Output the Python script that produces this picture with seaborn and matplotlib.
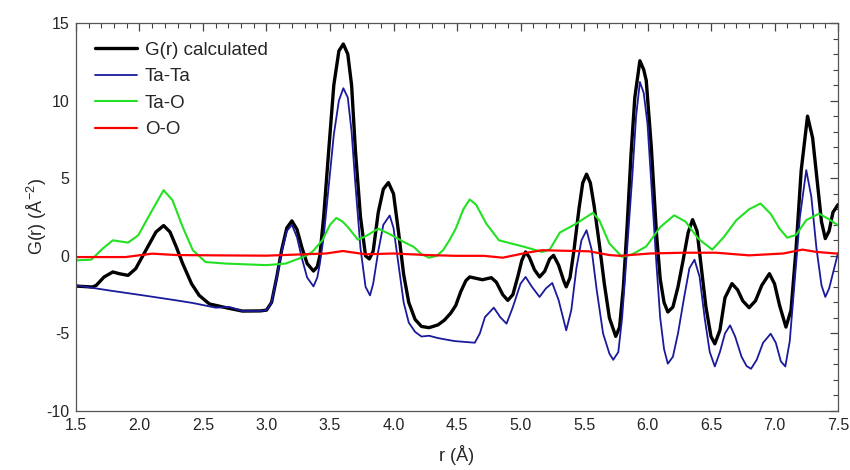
import numpy as np
import pandas as pd
import matplotlib
matplotlib.use('Agg')
import matplotlib.pyplot as plt
from matplotlib.ticker import MultipleLocator, FormatStrFormatter
import seaborn as sns

# G(r) calculado (curva preta)
r_calc = [1.50, 1.63, 1.66, 1.72, 1.79, 1.84, 1.91, 1.97, 2.05, 2.13, 2.19, 2.24, 2.29, 2.34, 2.41,
          2.47, 2.55, 2.68, 2.81, 2.95, 3.00, 3.04, 3.08, 3.12, 3.16, 3.20, 3.24, 3.28, 3.32, 3.37,
          3.40, 3.42, 3.45, 3.49, 3.53, 3.57, 3.605, 3.64, 3.67, 3.70, 3.74, 3.78, 3.81, 3.84, 3.88,
          3.92, 3.96, 4.00, 4.04, 4.08, 4.12, 4.17, 4.22, 4.28, 4.35, 4.40, 4.45, 4.49, 4.53, 4.57,
          4.60, 4.65, 4.70, 4.77, 4.81, 4.86, 4.90, 4.94, 4.98, 5.01, 5.04, 5.07, 5.11, 5.15, 5.19,
          5.23, 5.26, 5.30, 5.34, 5.36, 5.39, 5.42, 5.46, 5.49, 5.52, 5.55, 5.58, 5.62, 5.66, 5.70,
          5.75, 5.78, 5.81, 5.84, 5.87, 5.90, 5.94, 5.97, 5.99, 6.03, 6.07, 6.10, 6.13, 6.16, 6.20,
          6.24, 6.28, 6.32, 6.355, 6.39, 6.42, 6.46, 6.50, 6.53, 6.57, 6.61, 6.665, 6.71, 6.75, 6.80,
          6.85, 6.90, 6.96, 7.00, 7.04, 7.09, 7.13, 7.17, 7.21, 7.26, 7.30, 7.34, 7.37, 7.40, 7.43,
          7.46, 7.50]
g_calc = [-1.95, -2.01, -1.9, -1.37, -1.04, -1.15, -1.26, -0.83, 0.35, 1.54, 1.95, 1.54, 0.57, -0.5, -1.8,
          -2.55, -3.1, -3.34, -3.56, -3.55, -3.5, -3.0, -1.4, 0.4, 1.8, 2.25, 1.7, 0.5, -0.5, -0.98,
          -0.7, 0.0, 2.5, 6.8, 11.0, 13.2, 13.65, 13.0, 11.0, 6.8, 2.5, 0.0, -0.2, 0.3, 2.8,
          4.3, 4.72, 4.0, 1.5, -1.2, -3.0, -4.1, -4.55, -4.63, -4.45, -4.15, -3.7, -3.2, -2.3, -1.6,
          -1.36, -1.45, -1.54, -1.41, -1.7, -2.5, -2.87, -2.5, -1.3, -0.3, 0.25, -0.1, -0.9, -1.36, -1.0,
          -0.2, 0.03, -0.6, -1.6, -2.0, -1.4, 0.3, 3.0, 4.7, 5.26, 4.7, 3.2, 0.8, -1.8, -4.0,
          -5.19, -4.6, -2.0, 2.0, 6.5, 10.2, 12.57, 12.0, 11.3, 7.0, 1.5, -1.5, -3.0, -3.62, -3.3,
          -2.0, -0.3, 1.5, 2.33, 1.6, -0.5, -3.3, -5.2, -5.67, -4.8, -2.7, -1.79, -2.2, -2.9, -3.34,
          -2.9, -1.9, -1.15, -1.8, -3.2, -4.59, -3.5, 0.5, 5.5, 9.0, 7.6, 4.5, 2.2, 1.11, 1.6,
          2.8, 3.3]

# Ta-Ta
r_tata = [1.50, 1.76, 2.03, 2.29, 2.42, 2.60, 2.71, 2.81, 2.95, 3.00, 3.04, 3.08, 3.12, 3.16, 3.20,
          3.24, 3.28, 3.32, 3.37, 3.40, 3.42, 3.45, 3.49, 3.53, 3.57, 3.605, 3.64, 3.67, 3.70, 3.74,
          3.78, 3.815, 3.84, 3.88, 3.92, 3.97, 4.00, 4.04, 4.08, 4.12, 4.17, 4.22, 4.28, 4.35, 4.45,
          4.49, 4.64, 4.68, 4.72, 4.79, 4.84, 4.89, 4.94, 5.00, 5.04, 5.09, 5.15, 5.20, 5.25, 5.30,
          5.36, 5.40, 5.44, 5.48, 5.52, 5.56, 5.60, 5.65, 5.70, 5.73, 5.77, 5.80, 5.84, 5.88, 5.91,
          5.94, 5.97, 6.00, 6.03, 6.07, 6.10, 6.13, 6.16, 6.20, 6.24, 6.29, 6.33, 6.37, 6.41, 6.45,
          6.49, 6.53, 6.57, 6.61, 6.65, 6.69, 6.74, 6.78, 6.815, 6.86, 6.91, 6.97, 7.01, 7.05, 7.085,
          7.12, 7.16, 7.20, 7.25, 7.29, 7.33, 7.37, 7.40, 7.43, 7.47, 7.50]
g_tata = [-1.9, -2.23, -2.55, -2.87, -3.04, -3.34, -3.3, -3.56, -3.55, -3.5, -3.0, -1.4, 0.3, 1.6, 2.0,
          1.2, -0.2, -1.4, -1.97, -1.4, -0.5, 1.2, 4.5, 7.8, 10.0, 10.8, 10.2, 8.0, 4.6, 0.5,
          -2.0, -2.55, -1.8, 0.3, 2.0, 2.6, 1.8, -0.6, -3.0, -4.3, -4.9, -5.2, -5.15, -5.3, -5.45,
          -5.5, -5.6, -5.0, -3.95, -3.34, -3.95, -4.37, -3.3, -1.8, -1.36, -2.0, -2.65, -2.1, -1.75, -2.85,
          -4.8, -3.5, -0.8, 1.0, 1.65, 0.4, -2.2, -5.0, -6.3, -6.7, -6.2, -4.0, 0.5, 5.1, 9.0,
          11.2, 10.5, 8.5, 4.65, -0.5, -4.0, -6.0, -6.95, -6.5, -5.0, -2.6, -0.8, -0.25, -1.35, -4.0,
          -6.2, -7.13, -6.2, -5.0, -4.48, -5.2, -6.5, -7.1, -7.28, -6.7, -5.6, -5.02, -5.6, -6.8, -7.13,
          -5.5, -1.5, 2.5, 5.52, 3.8, 0.5, -1.9, -2.65, -2.1, -0.8, 0.18]

# Ta-O
r_tao = [1.50, 1.62, 1.71, 1.79, 1.91, 1.99, 2.10, 2.19, 2.26, 2.34, 2.42, 2.52, 2.68, 3.00, 3.15,
         3.29, 3.36, 3.44, 3.50, 3.55, 3.60, 3.64, 3.72, 3.78, 3.88, 3.97, 4.07, 4.16, 4.22, 4.28,
         4.34, 4.39, 4.44, 4.49, 4.55, 4.60, 4.65, 4.73, 4.83, 5.02, 5.17, 5.23, 5.31, 5.44, 5.50,
         5.57, 5.62, 5.70, 5.80, 5.88, 5.99, 6.10, 6.21, 6.30, 6.40, 6.51, 6.60, 6.70, 6.80, 6.89,
         6.97, 7.04, 7.10, 7.17, 7.25, 7.35, 7.42, 7.50]
g_tao = [-0.29, -0.25, 0.46, 1.0, 0.85, 1.32, 2.94, 4.23, 3.58, 1.86, 0.36, -0.4, -0.5, -0.6, -0.5,
         -0.07, 0.25, 1.0, 2.0, 2.44, 2.2, 1.86, 1.04, 1.26, 1.75, 1.4, 0.94, 0.57, 0.1, -0.12,
         0.0, 0.36, 1.0, 1.75, 3.0, 3.63, 3.3, 2.08, 1.0, 0.6, 0.25, 0.4, 1.5, 2.08, 2.4,
         2.77, 2.3, 0.79, -0.07, 0.1, 0.6, 1.85, 2.61, 2.2, 1.1, 0.4, 1.2, 2.3, 3.0, 3.37,
         2.7, 1.75, 1.17, 1.35, 2.3, 2.72, 2.4, 1.97]

# O-O
r_oo = [1.50, 1.89, 2.10, 2.29, 2.60, 3.00, 3.47, 3.60, 3.78, 4.00, 4.26, 4.49, 4.71, 4.86, 5.05,
        5.17, 5.54, 5.70, 5.78, 6.02, 6.28, 6.54, 6.80, 7.07, 7.22, 7.33, 7.50]
g_oo = [-0.08, -0.08, 0.14, 0.05, 0.03, 0.01, 0.15, 0.31, 0.1, 0.15, 0.05, 0.0, 0.0, -0.12, 0.2,
        0.36, 0.29, 0.05, 0.0, 0.15, 0.2, 0.2, 0.03, 0.15, 0.4, 0.25, 0.14]

series = [
    ('G(r) calculated', r_calc, g_calc, 'black', 2.4),
    ('Ta-Ta', r_tata, g_tata, '#1a1a9c', 1.3),
    ('Ta-O', r_tao, g_tao, '#22e022', 1.5),
    ('O-O', r_oo, g_oo, '#ff0000', 1.6),
]

sns.set_style('white')
plt.rcParams['font.family'] = ['Liberation Sans', 'DejaVu Sans']
plt.rcParams['axes.unicode_minus'] = False
plt.rcParams['mathtext.fontset'] = 'custom'
plt.rcParams['mathtext.rm'] = 'Liberation Sans'
plt.rcParams['mathtext.default'] = 'regular'

fig = plt.figure(figsize=(8.5, 4.7), dpi=100)
ax = fig.add_axes([0.0894, 0.1255, 0.8965, 0.8255])

for nome, r, g, cor, lw in series:
    df = pd.DataFrame({'r': r, 'G': g})
    sns.lineplot(data=df, x='r', y='G', color=cor, linewidth=lw, label=nome, ax=ax)

ax.set_xlim(1.5, 7.5)
ax.set_ylim(-10, 15)
ax.xaxis.set_major_locator(MultipleLocator(0.5))
ax.xaxis.set_minor_locator(MultipleLocator(0.1))
ax.yaxis.set_major_locator(MultipleLocator(5))
ax.yaxis.set_minor_locator(MultipleLocator(1))
ax.xaxis.set_major_formatter(FormatStrFormatter('%.1f'))
ax.tick_params(which='both', direction='in', top=True, right=True, labelsize=11.5, color='#444444')
ax.tick_params(which='major', length=6, width=0.9, pad=5)
ax.tick_params(which='minor', length=3.5, width=0.8)
for s in ax.spines.values():
    s.set_color('#555555')
    s.set_linewidth(0.9)

ax.set_xlabel('r (Å)', fontsize=13, labelpad=9)
ax.set_ylabel('G(r) (Å$^{-2}$)', fontsize=13, labelpad=-2)

ax.legend(loc='upper left', frameon=False, fontsize=13.5, handlelength=2.25,
          handletextpad=0.43, labelspacing=0.5, borderaxespad=0.6)

fig.savefig('out.png', dpi=100)
